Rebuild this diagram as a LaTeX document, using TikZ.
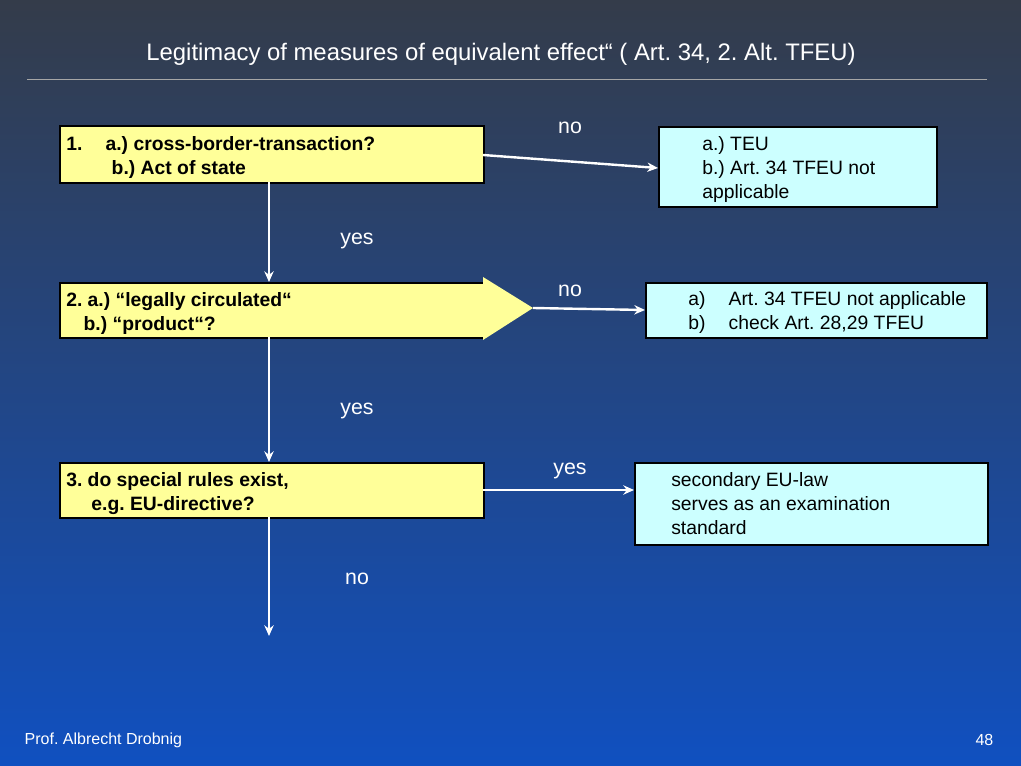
\documentclass[tikz,border=0pt]{standalone}
\usepackage{fontspec}
\setmainfont{Liberation Sans}
\usetikzlibrary{arrows.meta}
\definecolor{qy}{HTML}{FFFF99}
\definecolor{ac}{HTML}{CCFFFF}
\begin{document}
\frenchspacing
\begin{tikzpicture}[x=0.75pt,y=-0.75pt,
  qbox/.style={draw=black,line width=1.5pt,fill=qy,anchor=north west,inner sep=0pt},
  abox/.style={draw=black,line width=1.5pt,fill=ac,anchor=north west,inner sep=0pt},
  qtxt/.style={anchor=north west,font=\bfseries\fontsize{14.5}{18}\selectfont,align=left,inner sep=0pt},
  atxt/.style={anchor=north west,font=\fontsize{14.5}{18}\selectfont,align=left,inner sep=0pt},
  lab/.style={text=white,font=\fontsize{16}{18}\selectfont},
  arr/.style={white,line width=1.8pt,-{Stealth[length=8pt,width=7pt]}}]
\shade[top color={rgb,255:red,52;green,60;blue,74},bottom color={rgb,255:red,16;green,80;blue,192}] (0,0) rectangle (1021,766);
\useasboundingbox (0,0) rectangle (1021,766);
\node[text=white,font=\fontsize{17.9}{20}\selectfont] (title) at (501,54) {Legitimacy of measures of equivalent effect“ ( Art. 34, 2. Alt. TFEU)};
\draw[gray!70,line width=0.6pt] (27,79) -- (987,79);
% question boxes
\node[qbox,minimum width=424*0.75pt,minimum height=57*0.75pt] (q1) at (59,125) {};
\node[qtxt] (t1) at (66,136) {1.\hspace{1.2em}a.) cross-border-transaction?\\\hspace{2.35em}b.) Act of state};
\node[qbox,minimum width=424*0.75pt,minimum height=55*0.75pt] (q2) at (59,282) {};
\node[qtxt] (t2) at (66,292) {2. a.) “legally circulated“\\\hspace{0.9em}b.) “product“?};
\fill[qy] (483,277) -- (533,308) -- (483,340) -- cycle;
\coordinate (apex) at (533,308);
\node[qbox,minimum width=424*0.75pt,minimum height=55*0.75pt] (q3) at (59,462) {};
\node[qtxt] (t3) at (66,472) {3. do special rules exist,\\\hspace{1.3em}e.g. EU-directive?};
% answer boxes
\node[abox,minimum width=278*0.75pt,minimum height=80*0.75pt] (a1) at (658,126) {};
\node[atxt] (ta1) at (702,136) {a.) TEU\\b.) Art. 34 TFEU not\\applicable};
\node[abox,minimum width=341*0.75pt,minimum height=55*0.75pt] (a2) at (645,282) {};
\node[atxt] (ta2) at (688,291) {a)\hspace{1.2em}Art. 34 TFEU not applicable\\b)\hspace{1.2em}check Art. 28,29 TFEU};
\node[abox,minimum width=353*0.75pt,minimum height=82*0.75pt] (a3) at (634,462) {};
\node[atxt] (ta3) at (671,472) {secondary EU-law\\serves as an examination\\standard};
% arrows
\coordinate (e1) at (483,155);
\coordinate (f1) at (658,168);
\draw[arr] (e1) -- (f1);
\coordinate (f2) at (645,310);
\draw[arr] (apex) -- (f2);
\coordinate (e3) at (483,490);
\coordinate (f3) at (634,490);
\draw[arr] (e3) -- (f3);
\coordinate (end) at (269,636);
\draw[arr] (269,182) -- (q2.north -| 269,0);
\draw[arr] (269,337) -- (q3.north -| 269,0);
\draw[arr] (269,517) -- (end);
\node[lab] (l1) at (570,128) {no};
\node[lab] (l2) at (570,291) {no};
\node[lab] (l3) at (570,471) {yes};
\node[lab] (l4) at (357,241) {yes};
\node[lab] (l5) at (357,411) {yes};
\node[lab] (l6) at (357,579) {no};
\node[text=white,anchor=west,font=\fontsize{12}{13}\selectfont] (auth) at (20,740) {Prof. Albrecht Drobnig};
\node[text=white,anchor=east,font=\fontsize{12}{13}\selectfont] (pg) at (998,740) {48};
\end{tikzpicture}
\end{document}
